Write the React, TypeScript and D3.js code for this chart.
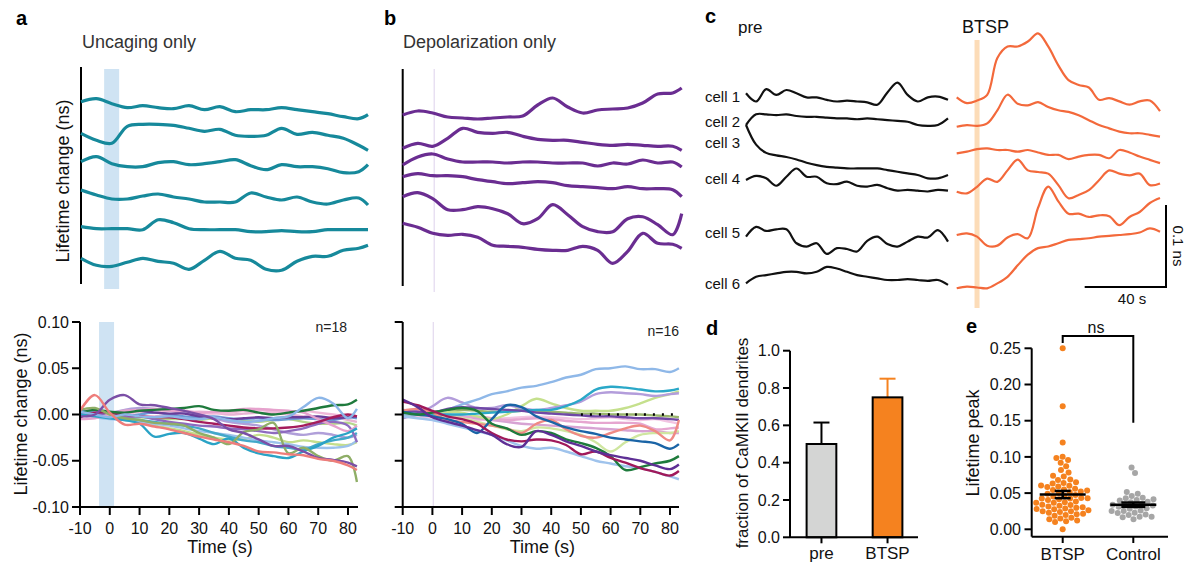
import React from 'react';
import * as d3 from 'd3';

const FONT = '"Liberation Sans", Arial, Helvetica, sans-serif';

// sample times (s)
const timesAB = [-10, -5, 0, 5, 10, 15, 20, 25, 30, 35, 40, 45, 50, 55, 60, 65, 70, 75, 80, 83];
const timesC = [0, 5, 10, 15, 20, 25, 30, 35, 40, 45, 50, 55, 60, 65, 70, 75, 80, 85, 90, 95, 100];

// a top: uncaging only, example dendrites (ps, relative to start)
const uncagingExamples = [
  [0, 3, -2, -6, -4, -6, -7, -4, -8, -5, -10, -8, -8, -6, -8, -10, -12, -15, -17, -13],
  [0, -7, -10, 7, 9, 9, 8, 5, 2, 4, -2, -3, -2, 5, -1, 1, -2, -5, -12, -17],
  [0, 5, -2, -5, -5, -1, 0, -3, -2, 0, 2, -4, -8, -3, -5, -5, -7, -11, -10, -3],
  [0, -5, -9, -9, -6, -4, -7, -9, -12, -12, -12, -3, -7, -10, -7, -12, -14, -10, -8, -15],
  [0, -2, -2, -2, -3, 7, 4, -2, -3, -3, -3, -5, -5, -4, -5, -5, -3, -3, -3, -3],
  [0, -7, -8, -4, 0, -3, -5, -11, -2, 7, 0, -2, -11, -12, -3, 2, 2, 8, 10, 13],
];

// b top: depolarization only, example dendrites (ps)
const depolExamples = [
  [0, 4, 2, -2, -3, -4, -3, -2, -1, 10, 17, 8, 2, 5, 6, 7, 12, 21, 22, 27],
  [0, 5, 2, 10, 20, 16, 15, 16, 12, 9, 8, 8, 6, 4, 3, 4, 3, 2, 2, -2],
  [0, 8, 11, 6, 3, 3, 3, 2, 3, 3, 2, 2, 2, -1, 2, 1, 5, 2, 3, -2],
  [0, 3, 1, 1, 0, -3, -5, -7, -6, -5, -6, -9, -10, -11, -12, -10, -12, -12, -13, -20],
  [0, 4, -2, -13, -13, -10, -12, -17, -27, -22, -8, -18, -30, -35, -35, -22, -20, -28, -38, -17],
  [0, -4, -10, -12, -11, -14, -22, -23, -24, -26, -27, -27, -23, -27, -40, -28, -10, -20, -21, -25],
];

// a bottom: all uncaging-only dendrites (ns), n=18
const uncagingAll = [
  [0.006, 0.004, 0.002, 0.0, -0.001, -0.002, 0.0, 0.002, 0.003, 0.002, 0.0, 0.001, 0.002, 0.001, 0.0, -0.002, -0.004, -0.003, -0.006, -0.008],
  [0.003, -0.002, -0.004, 0.0, 0.003, 0.002, 0.004, 0.003, 0.002, 0.001, 0.002, 0.004, 0.005, 0.003, 0.002, 0.004, 0.002, 0.0, -0.002, -0.003],
  [0.0, 0.003, 0.0, -0.002, -0.003, -0.004, -0.005, -0.005, -0.006, -0.004, -0.005, -0.006, -0.008, -0.006, -0.005, -0.008, -0.010, -0.010, -0.009, -0.012],
  [0.002, 0.0, -0.003, -0.006, -0.008, -0.012, -0.015, -0.018, -0.022, -0.025, -0.027, -0.027, -0.022, -0.025, -0.030, -0.028, -0.030, -0.032, -0.033, -0.030],
  [0.0, -0.003, -0.005, -0.006, -0.008, -0.010, -0.012, -0.015, -0.018, -0.020, -0.022, -0.025, -0.028, -0.030, -0.032, -0.035, -0.036, -0.036, -0.034, -0.028],
  [0.002, 0.004, 0.002, 0.005, 0.007, 0.006, 0.005, 0.002, 0.0, -0.004, -0.008, -0.010, -0.012, -0.016, -0.020, -0.022, -0.020, -0.022, -0.025, -0.022],
  [0.004, 0.002, 0.0, -0.002, 0.0, 0.002, 0.0, -0.002, -0.003, -0.002, -0.004, -0.005, -0.004, -0.006, -0.005, -0.004, -0.005, -0.006, -0.003, -0.004],
  [0.0, 0.0, -0.001, 0.003, 0.004, 0.002, 0.001, 0.001, -0.002, -0.003, -0.005, -0.004, -0.003, -0.004, -0.003, -0.003, -0.002, -0.004, -0.003, -0.002],
  [0.003, 0.0, -0.002, -0.004, -0.006, -0.008, -0.010, -0.012, -0.015, -0.020, -0.024, -0.028, -0.030, -0.034, -0.036, -0.038, -0.032, -0.028, -0.025, -0.020],
  [0.002, 0.001, -0.002, -0.003, -0.002, -0.005, -0.008, -0.010, -0.012, -0.013, -0.015, -0.016, -0.018, -0.020, -0.018, -0.015, -0.010, -0.008, -0.012, -0.030],
  [-0.005, -0.004, 0.0, 0.004, 0.005, 0.006, 0.004, 0.004, 0.002, 0.003, 0.004, 0.006, 0.006, 0.005, 0.004, 0.002, -0.005, -0.012, -0.018, -0.012],
  [-0.003, 0.002, 0.002, 0.0, -0.002, -0.003, -0.003, -0.005, -0.008, -0.010, -0.012, -0.014, -0.015, -0.015, -0.014, -0.012, -0.008, -0.003, 0.0, -0.002],
  [0.002, 0.005, 0.003, 0.002, 0.004, 0.005, 0.006, 0.007, 0.009, 0.005, 0.004, 0.005, 0.002, 0.0, 0.002, 0.004, 0.007, 0.010, 0.011, 0.016],
  [0.0, -0.002, -0.004, -0.006, -0.010, -0.024, -0.021, -0.020, -0.026, -0.032, -0.026, -0.036, -0.042, -0.045, -0.047, -0.040, -0.034, -0.025, -0.020, -0.015],
  [0.005, 0.007, 0.0, -0.004, -0.006, -0.009, -0.010, -0.012, -0.020, -0.025, -0.032, -0.019, -0.016, -0.009, -0.042, -0.036, -0.045, -0.050, -0.045, -0.073],
  [0.003, 0.0, -0.003, 0.0, -0.002, -0.003, -0.002, -0.004, -0.005, -0.003, -0.006, -0.008, -0.007, -0.004, -0.002, 0.008, 0.018, 0.012, -0.004, 0.006],
  [-0.002, 0.0, 0.016, 0.021, 0.011, 0.010, 0.007, 0.004, 0.0, -0.005, -0.016, -0.020, -0.027, -0.034, -0.034, -0.040, -0.047, -0.049, -0.052, -0.056],
  [0.004, 0.021, 0.002, -0.011, -0.010, -0.013, -0.016, -0.020, -0.024, -0.027, -0.030, -0.034, -0.040, -0.041, -0.043, -0.044, -0.048, -0.050, -0.055, -0.060],
];
const uncagingColors = ['#e7b3d3', '#f0b8d8', '#b5d68a', '#c4de8c', '#9cc2ec', '#b09fd9', '#6d9ad6', '#6a3d9a', '#42a8c9', '#8e6bbf', '#e6a2cd', '#a51c5c', '#1e7a3c', '#2aa3c6', '#8fae67', '#8cb6e8', '#7b4fa6', '#ee7d7b'];

// b bottom: all depolarization-only dendrites (ns), n=16
const depolAll = [
  [0.0, -0.002, -0.003, -0.004, -0.005, -0.006, -0.005, -0.004, -0.003, -0.002, -0.003, -0.004, -0.005, -0.004, -0.003, -0.005, -0.006, -0.005, -0.008, -0.010],
  [0.005, 0.004, 0.002, 0.0, -0.002, -0.004, -0.006, -0.008, -0.010, -0.011, -0.012, -0.013, -0.014, -0.015, -0.016, -0.017, -0.018, -0.018, -0.020, -0.020],
  [0.002, 0.001, 0.0, -0.002, -0.003, -0.002, -0.004, -0.006, -0.005, -0.004, -0.005, -0.007, -0.008, -0.009, -0.009, -0.009, -0.010, -0.016, -0.015, -0.014],
  [0.0, 0.002, 0.003, 0.004, 0.005, 0.004, 0.003, 0.003, 0.004, 0.004, 0.003, 0.002, 0.001, 0.001, 0.0, 0.0, 0.0, -0.001, -0.002, -0.003],
  [0.004, 0.002, 0.0, -0.002, -0.004, -0.008, -0.012, -0.016, -0.018, -0.014, -0.015, -0.018, -0.022, -0.030, -0.040, -0.030, -0.022, -0.020, -0.020, -0.018],
  [-0.002, 0.0, 0.002, 0.003, 0.002, -0.002, -0.005, 0.0, 0.009, 0.017, 0.012, 0.007, 0.004, 0.004, 0.004, 0.007, 0.012, 0.018, 0.022, 0.025],
  [-0.004, 0.0, 0.009, 0.018, 0.013, 0.007, 0.007, 0.010, 0.007, 0.005, 0.007, 0.010, 0.014, 0.022, 0.024, 0.023, 0.022, 0.020, 0.022, 0.023],
  [0.002, 0.0, 0.0, 0.0, 0.0, 0.001, 0.002, 0.003, 0.004, 0.005, 0.005, 0.009, 0.016, 0.027, 0.030, 0.029, 0.027, 0.025, 0.026, 0.028],
  [0.0, 0.0, 0.002, 0.005, 0.011, 0.016, 0.022, 0.025, 0.029, 0.031, 0.035, 0.040, 0.043, 0.049, 0.050, 0.052, 0.049, 0.049, 0.046, 0.050],
  [-0.002, -0.004, -0.006, -0.010, -0.014, -0.018, -0.022, -0.028, -0.034, -0.037, -0.036, -0.040, -0.045, -0.050, -0.053, -0.056, -0.058, -0.062, -0.067, -0.070],
  [0.004, 0.003, 0.002, 0.006, 0.008, 0.007, 0.006, 0.005, 0.004, 0.002, 0.001, 0.0, -0.001, -0.002, -0.002, -0.003, -0.004, -0.004, -0.005, -0.006],
  [0.004, 0.006, 0.002, -0.006, -0.008, -0.010, -0.012, -0.015, -0.020, -0.010, -0.006, -0.016, -0.023, -0.025, -0.020, -0.015, -0.012, -0.018, -0.028, -0.006],
  [0.003, 0.0, -0.002, -0.005, -0.010, -0.020, -0.005, 0.010, 0.008, -0.002, -0.008, -0.014, -0.018, -0.021, -0.025, -0.027, -0.029, -0.031, -0.037, -0.032],
  [0.002, 0.0, 0.002, 0.005, 0.007, 0.004, -0.010, -0.015, -0.022, -0.018, -0.020, -0.027, -0.031, -0.036, -0.045, -0.060, -0.057, -0.053, -0.050, -0.045],
  [0.014, 0.010, 0.004, -0.002, -0.005, -0.010, -0.020, -0.027, -0.029, -0.027, -0.028, -0.033, -0.043, -0.040, -0.047, -0.052, -0.058, -0.062, -0.066, -0.061],
  [0.016, 0.008, -0.003, -0.008, -0.012, -0.017, -0.022, -0.032, -0.035, -0.018, -0.022, -0.029, -0.034, -0.040, -0.044, -0.047, -0.050, -0.055, -0.059, -0.054],
];
const depolColors = ['#f2c4e2', '#d7a3d3', '#e6a6d0', '#9bb56f', '#cfe6a0', '#c5e08d', '#b39ddb', '#2aa8c8', '#8fb8e8', '#9fc3ec', '#7048a6', '#ef8a84', '#1a64a6', '#1e7b3c', '#a0195a', '#5e2f95'];

// c: example cells (ps, relative to start)
const cellNames = ['cell 1', 'cell 2', 'cell 3', 'cell 4', 'cell 5', 'cell 6'];
const preTraces = [
  [0, -10, 5, -2, 4, 0, -5, -5, -8, -10, -9, -10, -11, -14, 1, 13, -2, -10, -5, -4, -8],
  [0, 13, 13, 12, 13, 11, 10, 10, 9, 8, 8, 7, 8, 7, 6, 5, 4, 0, -1, 0, 8],
  [0, -24, -34, -37, -39, -42, -46, -49, -51, -52, -53, -53, -53, -53, -55, -57, -59, -61, -65, -65, -61],
  [0, 5, 2, -7, 4, 14, 4, 4, -4, -5, -2, -7, -8, -6, -10, -13, -12, -13, -14, -12, -13],
  [0, 12, 7, 9, 9, -8, -12, -8, -21, -14, -15, -18, -5, 0, -9, -12, -6, 0, -1, 8, -6],
  [0, 8, 10, 12, 14, 14, 12, 14, 20, 18, 14, 10, 8, 6, 4, 4, 5, 4, 3, 4, -2],
];
const btspTraces = [
  [0, -7, -4, 3, 48, 62, 62, 68, 78, 62, 39, 21, 15, 12, -3, -1, -5, -9, -5, -4, -17],
  [0, 2, 1, 4, 20, 39, 28, 26, 30, 24, 20, 18, 14, 8, 2, -2, -6, -8, -8, -10, -12],
  [0, 2, 5, 6, 4, 4, 2, 4, 1, -2, -2, -7, -4, -2, -2, -6, 4, 1, -4, -8, -12],
  [0, -2, 6, 16, 12, 26, 39, 26, 24, 22, 8, -8, -4, 2, 14, 26, 22, 20, 22, 8, 10],
  [0, 2, -2, -13, -13, -3, 1, -4, 33, 59, 41, 26, 26, 22, 24, 23, 12, 22, 28, 39, 45],
  [0, 2, 1, 0, 6, 14, 28, 41, 49, 51, 55, 59, 60, 61, 63, 64, 65, 66, 68, 73, 69],
];
const btspOnset = 10; // s

// d
const fractionGroups = ['pre', 'BTSP'];
const fractionMean = [0.5, 0.75];
const fractionErr = [0.115, 0.1];

// e
const peakGroups = ['BTSP', 'Control'];
const peakBTSP = [0.25, 0.17, 0.12, 0.1, 0.098, 0.095, 0.092, 0.088, 0.082, 0.078, 0.073, 0.07, 0.068, 0.065, 0.062, 0.061, 0.06, 0.06, 0.058, 0.057, 0.056, 0.055, 0.054, 0.053, 0.052, 0.05, 0.05, 0.049, 0.048, 0.047, 0.046, 0.045, 0.044, 0.043, 0.042, 0.041, 0.04, 0.04, 0.039, 0.038, 0.037, 0.036, 0.035, 0.034, 0.033, 0.032, 0.031, 0.03, 0.03, 0.029, 0.028, 0.028, 0.027, 0.026, 0.025, 0.024, 0.023, 0.022, 0.021, 0.02, 0.019, 0.018, 0.017, 0.016, 0.015, 0.013, 0.0];
const peakControl = [0.085, 0.078, 0.05, 0.046, 0.043, 0.041, 0.04, 0.039, 0.038, 0.037, 0.036, 0.035, 0.035, 0.034, 0.033, 0.032, 0.031, 0.03, 0.03, 0.029, 0.028, 0.027, 0.027, 0.026, 0.025, 0.024, 0.023, 0.022, 0.02, 0.018, 0.014];
const peakMean = [0.048, 0.034];
const peakSem = [0.005, 0.003];

// layout of stacked traces (px)
const aTopBase = [101.7, 133.3, 161.7, 190, 226.7, 258.3];
const bTopBase = [115, 148.3, 165, 176.7, 196.7, 223.3];
const preBase = [93.3, 125, 125, 180, 236.7, 283.3];
const btspBase = [97.3, 126.7, 153.3, 191.7, 235, 288.3];
const cellLabelY = [102, 126.5, 148, 184, 238, 289];

const TEAL = '#16899b';
const PURPLE = '#6a2d91';
const RED = '#f3693b';
const ORANGE = '#f5821f';
const CURVE = d3.curveCatmullRom.alpha(0.5);

function swarm(values: number[], cx: number, y: (v: number) => number, r: number) {
  const nodes: any[] = values.map((v, i) => ({ x: cx + ((i % 2) ? 0.5 : -0.5), y: y(v), ty: y(v) }));
  const sim = d3.forceSimulation(nodes)
    .force('x', d3.forceX(cx).strength(0.06))
    .force('y', d3.forceY((d: any) => d.ty).strength(1))
    .force('c', d3.forceCollide(r + 0.2))
    .stop();
  for (let i = 0; i < 300; i++) sim.tick();
  return nodes;
}

function Axes({ x0, x1, yTop, yBot, xs, ys, xTicks, yTicks, yLabels, xLabel }: any) {
  return (
    <g stroke="#000" strokeWidth={2} fill="none">
      <line x1={x0} x2={x0} y1={yTop} y2={yBot} />
      <line x1={x0} x2={x1} y1={yBot} y2={yBot} />
      {yTicks.map((t: number) => (
        <line key={'y' + t} x1={x0 - 8} x2={x0} y1={ys(t)} y2={ys(t)} />
      ))}
      {xTicks.map((t: number) => (
        <line key={'x' + t} x1={xs(t)} x2={xs(t)} y1={yBot} y2={yBot + 8} />
      ))}
      <g stroke="none" fill="#111" fontSize={16} fontFamily={FONT}>
        {yLabels && yTicks.map((t: number) => (
          <text key={'yl' + t} x={x0 - 11} y={ys(t)} dy="0.35em" textAnchor="end">{t.toFixed(2)}</text>
        ))}
        {xTicks.map((t: number) => (
          <text key={'xl' + t} x={xs(t)} y={yBot + 27} textAnchor="middle">{String(t)}</text>
        ))}
        <text x={(xs(-10) + xs(80)) / 2 + 6} y={yBot + 46} textAnchor="middle" fontSize={18}>{xLabel}</text>
      </g>
    </g>
  );
}

export default function App() {
  // a / b bottom
  const yBot = d3.scaleLinear().domain([-0.1, 0.1]).range([507, 322]);
  const xBotA = d3.scaleLinear().domain([-10, 80]).range([80, 348]);
  const xBotB = d3.scaleLinear().domain([-10, 80]).range([402.7, 670]);
  const xTopA = d3.scaleLinear().domain([-10, 83]).range([81, 368]);
  const xTopB = d3.scaleLinear().domain([-10, 83]).range([402.7, 681.7]);
  const psPx = 1; // px per ps for top panels
  const yTicksAB = [-0.1, -0.05, 0, 0.05, 0.1];
  const xTicksAB = [-10, 0, 10, 20, 30, 40, 50, 60, 70, 80];

  const lineTop = (xs: any, base: number) =>
    d3.line<number>().x((_, i) => xs(timesAB[i])).y(d => base - d * psPx).curve(CURVE);
  const lineBot = (xs: any) =>
    d3.line<number>().x((_, i) => xs(timesAB[i])).y(d => yBot(d)).curve(CURVE);

  // c
  const xPre = d3.scaleLinear().domain([0, 100]).range([746, 948]);
  const xBtsp = d3.scaleLinear().domain([0, 100]).range([956.7, 1160]);
  const psC = 0.82; // px per ps (0.1 ns = 82 px)
  const lineC = (xs: any, base: number) =>
    d3.line<number>().x((_, i) => xs(timesC[i])).y(d => base - d * psC).curve(CURVE);

  // d
  const yD = d3.scaleLinear().domain([0, 1]).range([537.3, 350.7]);
  const xD = d3.scaleBand().domain(fractionGroups).range([800, 909]).paddingInner(0.55).paddingOuter(0.1);
  const dTicks = [0, 0.2, 0.4, 0.6, 0.8, 1.0];

  // e
  const yE = d3.scaleLinear().domain([0, 0.25]).range([529.3, 348.3]);
  const xE = d3.scalePoint().domain(peakGroups).range([1062.7, 1133.3]);
  const eTicks = [0, 0.05, 0.1, 0.15, 0.2, 0.25];
  const dotsB = swarm(peakBTSP, xE('BTSP')!, yE, 3);
  const dotsC = swarm(peakControl, xE('Control')!, yE, 3);

  return (
    <svg width={1189} height={564} style={{ position: 'absolute', left: 0, top: 0, background: '#fff' }} fontFamily={FONT}>
      {/* panel letters */}
      <g fontWeight="bold" fontSize={20} fill="#000">
        <text x={16} y={25}>a</text>
        <text x={384} y={25}>b</text>
        <text x={705} y={23}>c</text>
        <text x={706} y={335}>d</text>
        <text x={966} y={333}>e</text>
      </g>

      {/* ---- a top ---- */}
      <text x={82} y={48} fontSize={18} fill="#333">Uncaging only</text>
      <rect x={xTopA(-2.5)} y={69} width={15} height={220} fill="#cfe3f3" />
      <line x1={81} x2={81} y1={67} y2={284} stroke="#000" strokeWidth={2} />
      <text transform="translate(63,181) rotate(-90)" textAnchor="middle" dy="0.35em" fontSize={18} fill="#111">Lifetime change (ns)</text>
      {uncagingExamples.map((tr, i) => (
        <path key={i} d={lineTop(xTopA, aTopBase[i])(tr)!} fill="none" stroke={TEAL} strokeWidth={3.2} strokeLinejoin="round" />
      ))}

      {/* ---- b top ---- */}
      <text x={403} y={48} fontSize={18} fill="#333">Depolarization only</text>
      <line x1={xTopB(0.5)} x2={xTopB(0.5)} y1={69} y2={292} stroke="#e3d9ef" strokeWidth={1.2} />
      <line x1={402.7} x2={402.7} y1={69} y2={286} stroke="#000" strokeWidth={2} />
      {depolExamples.map((tr, i) => (
        <path key={i} d={lineTop(xTopB, bTopBase[i])(tr)!} fill="none" stroke={PURPLE} strokeWidth={3.2} strokeLinejoin="round" />
      ))}

      {/* ---- a bottom ---- */}
      <rect x={xBotA(-3.6)} y={322} width={15} height={185} fill="#cfe3f3" />
      {uncagingAll.map((tr, i) => (
        <path key={i} d={lineBot(xBotA)(tr)!} fill="none" stroke={uncagingColors[i]} strokeWidth={2.4} strokeLinejoin="round" />
      ))}
      <Axes x0={80} x1={358} yTop={322} yBot={507} xs={xBotA} ys={yBot} xTicks={xTicksAB} yTicks={yTicksAB} yLabels xLabel="Time (s)" />
      <text transform="translate(21,414) rotate(-90)" textAnchor="middle" dy="0.35em" fontSize={18} fill="#111">Lifetime change (ns)</text>
      <text x={347} y={332} textAnchor="end" fontSize={14} fill="#222">n=18</text>

      {/* ---- b bottom ---- */}
      <line x1={xBotB(0.3)} x2={xBotB(0.3)} y1={322} y2={507} stroke="#e3d9ef" strokeWidth={1.2} />
      {depolAll.map((tr, i) => (
        <path key={i} d={lineBot(xBotB)(tr)!} fill="none" stroke={depolColors[i]} strokeWidth={2.4} strokeLinejoin="round" />
      ))}
      <line x1={xBotB(50)} x2={xBotB(83)} y1={yBot(0)} y2={yBot(0)} stroke="#000" strokeWidth={2.5} strokeDasharray="2 7" />
      <Axes x0={402.7} x1={679} yTop={322} yBot={507} xs={xBotB} ys={yBot} xTicks={xTicksAB} yTicks={yTicksAB} yLabels={false} xLabel="Time (s)" />
      <text x={679} y={336} textAnchor="end" fontSize={14} fill="#222">n=16</text>

      {/* ---- c ---- */}
      <text x={738} y={33} fontSize={17} fill="#111">pre</text>
      <text x={962} y={33} fontSize={18} fill="#111">BTSP</text>
      <rect x={xBtsp(btspOnset) - 2.5} y={40} width={5} height={268} fill="#fcdcb8" />
      {cellNames.map((c, i) => (
        <text key={c} x={740} y={cellLabelY[i]} textAnchor="end" fontSize={15} fill="#111">{c}</text>
      ))}
      {preTraces.map((tr, i) => (
        <path key={i} d={lineC(xPre, preBase[i])(tr)!} fill="none" stroke="#111" strokeWidth={2.2} strokeLinejoin="round" />
      ))}
      {btspTraces.map((tr, i) => (
        <path key={i} d={lineC(xBtsp, btspBase[i])(tr)!} fill="none" stroke={RED} strokeWidth={2.2} strokeLinejoin="round" />
      ))}
      <path d={`M${1166 - 40 * (xBtsp(1) - xBtsp(0))},287H1166V${287 - 100 * psC}`} fill="none" stroke="#000" strokeWidth={2} />
      <text x={1132} y={304} textAnchor="middle" fontSize={15} fill="#111">40 s</text>
      <text transform="translate(1178,246) rotate(90)" textAnchor="middle" dy="0.35em" fontSize={15} fill="#111">0.1 ns</text>

      {/* ---- d ---- */}
      {fractionGroups.map((g, i) => {
        const x = xD(g)!;
        const w = xD.bandwidth();
        const col = i === 0 ? '#000' : ORANGE;
        return (
          <g key={g}>
            <line x1={x + w / 2} x2={x + w / 2} y1={yD(fractionMean[i])} y2={yD(fractionMean[i] + fractionErr[i])} stroke={col} strokeWidth={2} />
            <line x1={x + w / 2 - 8} x2={x + w / 2 + 8} y1={yD(fractionMean[i] + fractionErr[i])} y2={yD(fractionMean[i] + fractionErr[i])} stroke={col} strokeWidth={2} />
            <rect x={x} y={yD(fractionMean[i])} width={w} height={yD(0) - yD(fractionMean[i])} fill={i === 0 ? '#d4d5d4' : ORANGE} stroke="#000" strokeWidth={2} />
          </g>
        );
      })}
      <g stroke="#000" strokeWidth={2}>
        <line x1={790} x2={790} y1={yD(1)} y2={yD(0)} />
        <line x1={790} x2={918} y1={yD(0)} y2={yD(0)} />
        {dTicks.map(t => <line key={t} x1={783} x2={790} y1={yD(t)} y2={yD(t)} />)}
        {fractionGroups.map(g => <line key={g} x1={xD(g)! + xD.bandwidth() / 2} x2={xD(g)! + xD.bandwidth() / 2} y1={yD(0)} y2={yD(0) + 6} />)}
      </g>
      <g fontSize={16} fill="#111">
        {dTicks.map(t => <text key={t} x={780} y={yD(t)} dy="0.35em" textAnchor="end">{t.toFixed(1)}</text>)}
        {fractionGroups.map(g => <text key={g} x={xD(g)! + xD.bandwidth() / 2} y={559} textAnchor="middle" fontSize={17}>{g}</text>)}
      </g>
      <text transform="translate(742,443) rotate(-90)" textAnchor="middle" dy="0.35em" fontSize={17} fill="#111">fraction of CaMKII dendrites</text>

      {/* ---- e ---- */}
      {dotsC.map((d, i) => <circle key={'c' + i} cx={d.x} cy={d.y} r={3} fill="#a6a6a6" />)}
      {dotsB.map((d, i) => <circle key={'b' + i} cx={d.x} cy={d.y} r={3} fill={ORANGE} />)}
      {peakGroups.map((g, i) => {
        const cx = xE(g)!;
        const hi = yE(peakMean[i] + peakSem[i]);
        const lo = yE(peakMean[i] - peakSem[i]);
        const cap = i === 0 ? 8 : 12;
        return (
          <g key={g} stroke="#000" strokeWidth={2.5}>
            <line x1={cx - 23} x2={cx + 23} y1={yE(peakMean[i])} y2={yE(peakMean[i])} />
            <line x1={cx} x2={cx} y1={hi} y2={lo} />
            <line x1={cx - cap} x2={cx + cap} y1={hi} y2={hi} />
            <line x1={cx - cap} x2={cx + cap} y1={lo} y2={lo} />
          </g>
        );
      })}
      <g stroke="#000" strokeWidth={2} fill="none">
        <line x1={1031.7} x2={1031.7} y1={yE(0.25)} y2={536.7} />
        <line x1={1031.7} x2={1168} y1={536.7} y2={536.7} />
        {eTicks.map(t => <line key={t} x1={1024.5} x2={1031.7} y1={yE(t)} y2={yE(t)} />)}
        {peakGroups.map(g => <line key={g} x1={xE(g)!} x2={xE(g)!} y1={536.7} y2={543} />)}
        <path d={`M${xE('BTSP')},343V336H${xE('Control')}V422.7`} />
      </g>
      <g fontSize={16} fill="#111">
        {eTicks.map(t => <text key={t} x={1021} y={yE(t)} dy="0.35em" textAnchor="end">{t.toFixed(2)}</text>)}
        {peakGroups.map(g => <text key={g} x={xE(g)!} y={560} textAnchor="middle" fontSize={17}>{g}</text>)}
        <text x={1096} y={333} textAnchor="middle">ns</text>
      </g>
      <text transform="translate(973,443) rotate(-90)" textAnchor="middle" dy="0.35em" fontSize={18} fill="#111">Lifetime peak</text>
    </svg>
  );
}
